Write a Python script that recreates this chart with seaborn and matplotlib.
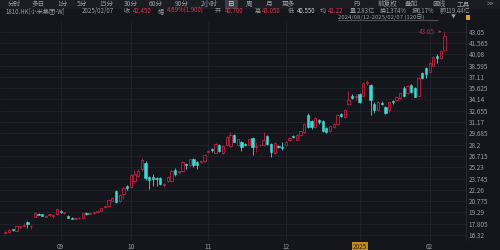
import numpy as np
import pandas as pd
import matplotlib
matplotlib.use("Agg")
import matplotlib.pyplot as plt
import seaborn as sns
from matplotlib.patches import Rectangle

# ---------------- data ----------------
opens = [16.55, 16.70, 17.05, 16.90, 17.35, 17.55, 18.05, 17.45, 18.75, 19.15,
         19.05, 18.75, 18.90, 18.85, 19.05, 19.45, 19.20, 18.85, 18.60, 18.45,
         18.50, 18.55, 19.25, 19.10, 19.20, 19.35, 19.50, 19.95, 20.15, 20.85,
         22.10, 20.75, 21.75, 22.75, 22.60, 23.40, 24.10, 25.00, 25.75, 24.00,
         23.90, 23.80, 23.85, 22.85, 23.40, 23.45, 24.90, 24.55, 24.80, 25.60,
         25.50, 26.30, 25.90, 25.90, 26.00, 27.25, 27.60, 27.15, 28.15, 27.15,
         28.15, 28.00, 29.45, 28.15, 28.60, 28.25, 28.15, 29.10, 27.90, 28.10,
         28.15, 29.30, 28.30, 27.05, 28.05, 27.90, 28.15, 28.80, 29.35, 28.85,
         29.45, 29.85, 32.10, 31.35, 30.55, 31.45, 31.30, 30.45, 29.95, 30.50,
         30.85, 32.20, 31.85, 33.50, 34.60, 34.45, 34.90, 34.65, 36.25, 36.05,
         33.60, 32.75, 33.70, 33.20, 32.70, 33.90, 34.10, 34.30, 35.70, 34.95,
         36.05, 35.70, 34.65, 37.60, 38.30, 37.80, 38.60, 39.90, 39.55, 40.70]
highs = [16.85, 17.05, 17.10, 17.50, 17.55, 17.90, 18.15, 17.65, 19.30, 19.25,
         19.10, 18.95, 19.10, 18.95, 19.75, 19.55, 19.40, 18.90, 18.65, 18.65,
         18.65, 19.25, 19.30, 19.30, 19.40, 19.55, 19.90, 20.20, 21.00, 21.35,
         22.30, 21.70, 22.60, 22.90, 24.30, 24.90, 25.00, 26.40, 26.10, 24.10,
         24.40, 23.95, 24.00, 23.10, 24.10, 25.00, 25.10, 24.80, 26.10, 25.80,
         26.35, 26.40, 26.00, 26.15, 26.95, 27.50, 27.70, 28.40, 28.30, 28.10,
         29.35, 29.90, 29.60, 29.00, 28.70, 28.40, 29.00, 29.20, 28.60, 28.35,
         29.80, 29.45, 28.40, 28.50, 28.20, 28.60, 28.70, 29.15, 29.50, 29.55,
         30.05, 31.05, 32.30, 31.50, 31.80, 31.60, 31.40, 30.55, 30.70, 31.05,
         32.20, 32.35, 32.90, 35.20, 34.90, 34.80, 35.00, 36.40, 36.70, 36.20,
         33.80, 33.95, 33.90, 33.30, 33.85, 34.05, 34.60, 35.05, 35.85, 36.05,
         36.20, 35.80, 37.05, 37.75, 38.45, 39.00, 39.85, 40.05, 40.65, 43.05]
lows = [16.45, 16.65, 16.85, 16.85, 17.30, 17.50, 17.30, 17.10, 18.70, 18.90,
        18.80, 18.70, 18.85, 18.60, 19.00, 19.25, 19.15, 18.55, 18.40, 18.40,
        18.45, 18.50, 19.00, 19.05, 19.15, 19.30, 19.45, 19.85, 20.10, 20.80,
        20.50, 20.60, 21.10, 22.30, 22.50, 23.20, 23.90, 24.80, 23.60, 22.40,
        22.80, 22.80, 22.90, 22.60, 23.30, 23.40, 24.10, 24.40, 24.60, 25.00,
        25.40, 25.30, 25.00, 25.80, 25.90, 27.10, 27.30, 27.05, 27.20, 27.00,
        28.05, 27.90, 28.50, 28.05, 27.40, 28.00, 28.05, 26.90, 27.20, 28.00,
        28.05, 28.20, 26.60, 26.95, 27.80, 27.50, 28.05, 28.70, 29.10, 28.75,
        29.35, 29.75, 30.40, 30.30, 30.45, 30.90, 29.85, 29.70, 29.85, 30.40,
        30.75, 31.90, 31.75, 33.40, 34.20, 34.10, 33.70, 34.55, 36.10, 32.10,
        32.30, 32.60, 33.40, 32.20, 32.55, 33.60, 34.00, 34.20, 34.50, 34.85,
        35.00, 34.40, 34.55, 36.85, 37.00, 37.70, 38.50, 38.90, 39.45, 40.55]
closes = [16.70, 16.95, 16.95, 17.45, 17.45, 17.70, 17.75, 17.55, 19.25, 18.95,
          18.85, 18.85, 19.05, 18.90, 19.70, 19.30, 19.35, 18.60, 18.45, 18.60,
          18.60, 19.20, 19.10, 19.25, 19.35, 19.50, 19.85, 20.10, 20.90, 21.20,
          20.70, 21.60, 22.50, 22.50, 24.20, 24.40, 24.80, 26.20, 23.80, 23.50,
          23.75, 23.70, 23.05, 23.05, 24.00, 24.80, 24.30, 24.70, 25.95, 25.50,
          26.25, 25.55, 25.50, 26.05, 26.85, 27.40, 27.45, 28.30, 27.35, 28.00,
          29.25, 29.45, 28.60, 28.90, 27.90, 28.10, 28.90, 27.95, 28.00, 28.20,
          28.80, 28.30, 27.30, 28.40, 27.90, 27.80, 28.60, 29.05, 29.20, 29.45,
          29.95, 30.95, 30.55, 30.50, 31.70, 31.20, 30.00, 29.85, 30.60, 30.95,
          32.10, 32.00, 32.80, 34.10, 34.30, 34.55, 33.85, 36.30, 36.45, 34.10,
          32.75, 33.85, 33.55, 32.35, 33.75, 33.75, 34.50, 34.95, 34.65, 35.95,
          35.15, 34.50, 36.95, 36.95, 37.45, 38.90, 39.75, 39.55, 40.55, 42.45]

month_pos = [15, 34, 55, 76, 96, 115]
month_labels = ["09", "10", "11", "12", "2025", "02"]
price_ticks = [43.05, 41.565, 40.08, 38.595, 37.11, 35.625, 34.14, 32.655, 31.17,
               29.685, 28.2, 26.715, 25.23, 23.745, 22.26, 20.775, 19.29, 17.805, 16.32]
price_tick_labels = ["43.05", "41.565", "40.08", "38.595", "37.11", "35.625", "34.14",
                     "32.655", "31.17", "29.685", "28.2", "26.715", "25.23", "23.745",
                     "22.26", "20.775", "19.29", "17.805", "16.32"]

toolbar_items = ["分时", "多日", "1分", "5分", "15分", "30分", "60分", "90分", "2小时",
                 "日", "周", "月", "更多", "F9", "前复权", "叠加", "画线", "工具", ">>"]
toolbar_x = [8, 32, 57, 77, 99, 124, 149, 175, 201, 228, 246, 266, 282, 353, 378, 405,
             432, 457, 487]

df = pd.DataFrame({"open": opens, "high": highs, "low": lows, "close": closes})
df["idx"] = np.arange(len(df))
df["up"] = df["close"] >= df["open"]

# ---------------- style ----------------
BG = "#14161b"
GRID = "#21242b"
RED = "#c4203f"
CYAN = "#3fd8d4"
GRAY = "#9a9ca4"
HRED = "#e0344c"

sns.set_theme(style="dark", rc={"axes.facecolor": BG, "figure.facecolor": BG})
plt.rcParams["font.family"] = ["Noto Sans CJK SC", "DejaVu Sans"]

fig = plt.figure(figsize=(5, 2.5), dpi=100)
fig.patch.set_facecolor(BG)
ax = fig.add_axes([0, 0.04, 0.932, 0.872])
ax.set_facecolor(BG)

# candles
w = 0.62
for _, r in df.iterrows():
    col = RED if r["up"] else CYAN
    ax.vlines(r["idx"], r["low"], r["high"], color=col, lw=0.6, zorder=2)
    lo = min(r["open"], r["close"])
    h = max(abs(r["close"] - r["open"]), 0.06)
    if r["up"]:
        ax.bar(r["idx"], h, bottom=lo, width=w, facecolor=BG, edgecolor=col,
               linewidth=0.6, zorder=3)
    else:
        ax.bar(r["idx"], h, bottom=lo, width=w, facecolor=col, edgecolor=col,
               linewidth=0.4, zorder=3)

ax.set_xlim(-1.44, 124.85)
ax.set_ylim(15.67, 44.32)

ax.set_yticks(price_ticks)
ax.set_yticklabels(price_tick_labels)
ax.yaxis.tick_right()
ax.tick_params(axis="y", length=0, pad=2, labelsize=4.6, labelcolor=GRAY)
ax.set_xticks(month_pos)
ax.set_xticklabels(month_labels)
ax.tick_params(axis="x", length=0, pad=2, labelsize=4.6, labelcolor=GRAY)
for lbl in ax.get_xticklabels():
    if lbl.get_text() == "2025":
        lbl.set_color("#3a2808")
        lbl.set_bbox(dict(boxstyle="square,pad=0.15", fc="#c08a28", ec="none"))
ax.grid(True, color=GRID, lw=0.6)
ax.set_axisbelow(True)
for s in ["top", "left", "bottom"]:
    ax.spines[s].set_visible(False)
ax.spines["right"].set_color("#2a2d34")
ax.spines["right"].set_linewidth(0.6)

# last price marker
ax.annotate("", xy=(119, 43.05), xytext=(116.7, 43.05),
            arrowprops=dict(arrowstyle="-|>", color=RED, lw=0.6, mutation_scale=3),
            zorder=5)
ax.text(116.5, 43.05, "43.05", color=RED, fontsize=4.6, ha="right", va="center")


# ---------------- header ----------------
def T(x, y, s, color=GRAY, size=4.6, **kw):
    return fig.text(x / 500, 1 - y / 250, s, color=color, fontsize=size,
                    ha="left", va="center", **kw)


fig.patches.append(Rectangle((0, 1 - 8.5 / 250), 1, 8.5 / 250, transform=fig.transFigure,
                             fc="#1b1d23", ec="none", zorder=0))
fig.patches.append(Rectangle((225 / 500, 1 - 8.5 / 250), 13 / 500, 8.5 / 250,
                             transform=fig.transFigure, fc="#3b3e46", ec="none", zorder=1))
for i, (lab, x) in enumerate(zip(toolbar_items, toolbar_x)):
    T(x, 4.2, lab, color="#d8d9dc" if lab == "日" else GRAY, size=4.8)

row2 = [(6, "1810.HK[小米集团-W]", GRAY), (82, "2025/02/07", GRAY), (124, "收", GRAY),
        (133, "42.450", HRED), (158, "幅", GRAY), (167, "4.69%(1.900)", HRED),
        (215, "开", GRAY), (225, "40.700", HRED), (255, "高", GRAY), (262, "43.050", HRED),
        (288, "低", GRAY), (297, "40.550", "#d0d1d4"), (320, "均", GRAY),
        (328, "42.22", HRED), (350, "量", GRAY), (357, "2.83亿", GRAY), (380, "换", GRAY),
        (386, "1.374%", GRAY), (412, "振", GRAY), (417, "6.17%", GRAY), (440, "额", GRAY),
        (446, "119.44亿", GRAY)]
for x, s, c in row2:
    T(x, 11.0, s, color=c, size=4.4)

T(338, 17.3, "2024/08/12-2025/02/07 (120日)", color=GRAY, size=4.3)
fig.add_artist(plt.Line2D([338 / 500, 438 / 500], [1 - 20.3 / 250, 1 - 20.3 / 250],
                          color="#6a6c72", lw=0.5, transform=fig.transFigure))
T(451, 17.3, "▼", color=GRAY, size=3.6)
fig.patches.append(Rectangle((466 / 500, 1 - 19.5 / 250), 4 / 500, 4 / 250,
                             transform=fig.transFigure, fc="#e0a020", ec="none"))

fig.savefig("out.png", dpi=100, facecolor=BG)
